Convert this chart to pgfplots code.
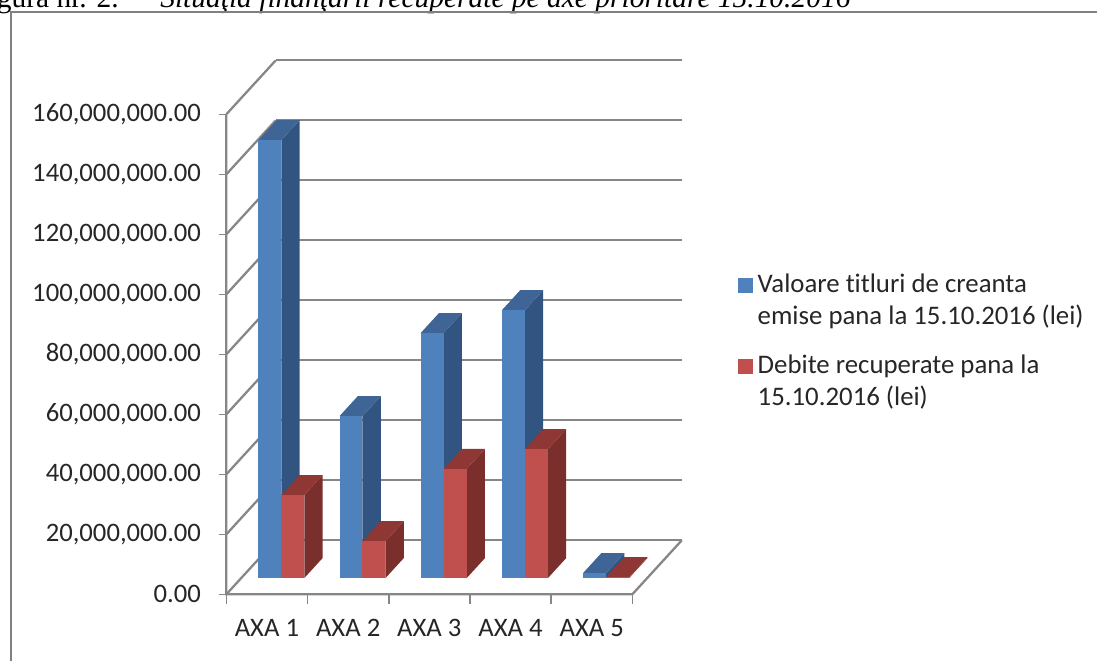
\documentclass[border=0pt]{standalone}
\usepackage{fontspec}
\setmainfont[Ligatures=NoCommon]{Carlito}
\newfontfamily\capfont{Liberation Serif}
\usepackage{pgfplots}
\pgfplotsset{compat=1.18}

\definecolor{gridgray}{HTML}{868686}
\definecolor{framegray}{HTML}{808080}
\definecolor{txt}{HTML}{262626}
\definecolor{bluefront}{HTML}{4F81BD}
\definecolor{bluetop}{HTML}{3E6595}
\definecolor{blueside}{HTML}{325480}
\definecolor{redfront}{HTML}{C0504D}
\definecolor{redtop}{HTML}{8E3735}
\definecolor{redside}{HTML}{7B2F2D}

% one 3D bar: x left, x right, value (millions), colour name prefix
\newcommand{\threedbar}[4]{
  \addplot3[fill=#4side,draw=none,forget plot] coordinates {(#2,0.3,0) (#2,0.67,0) (#2,0.67,#3) (#2,0.3,#3)} -- cycle;
  \addplot3[fill=#4top,draw=none,forget plot] coordinates {(#1,0.3,#3) (#2,0.3,#3) (#2,0.67,#3) (#1,0.67,#3)} -- cycle;
  \addplot3[fill=#4front,draw=none,forget plot] coordinates {(#1,0.3,0) (#2,0.3,0) (#2,0.3,#3) (#1,0.3,#3)} -- cycle;
}

\begin{document}
\begin{tikzpicture}[x=0.75pt,y=0.75pt]
\useasboundingbox (0,0) rectangle (1097,661);
\clip (0,0) rectangle (1097,661);

% caption of the scanned page, cut by the top edge
\node[anchor=base east,font=\capfont\fontsize{22.1}{24}\selectfont,inner sep=0pt] at (119,653) {Figura nr. 2.};
\node[anchor=base west,font=\capfont\itshape\fontsize{22.1}{24}\selectfont,inner sep=0pt] at (160,653) {Situaţia finanţării recuperate pe axe prioritare 15.10.2016};

% outer frame
\draw[framegray,line width=1.5pt] (11,0) -- (11,649) -- (1097,649);

\begin{axis}[
  at={(203.5,123.5)},
  anchor=origin,
  x={(60.9pt,0pt)},
  y={(37.1pt,40.5pt)},
  z={(0pt,2.25pt)},
  xmin=0, xmax=5,
  ymin=0, ymax=1,
  zmin=0, zmax=160,
  clip=false,
  axis line style={draw=none},
  zmajorgrids=true,
  grid style={gridgray,line width=1.7pt},
  major tick style={draw=none},
  xtick={0.5,1.5,2.5,3.5,4.5},
  xticklabels={AXA 1,AXA 2,AXA 3,AXA 4,AXA 5},
  ytick=\empty,
  ztick={0,20,40,60,80,100,120,140,160},
  zticklabels={{0.00},{20,000,000.00},{40,000,000.00},{60,000,000.00},{80,000,000.00},{100,000,000.00},{120,000,000.00},{140,000,000.00},{160,000,000.00}},
  xtick pos=left,
  ztick pos=left,
  tick label style={font=\fontsize{20}{24}\selectfont,text=txt},
  z tick label style={anchor=east,xshift=-15.5pt,yshift=0pt},
  x tick label style={anchor=base,xshift=0pt,yshift=-31.5pt},
  legend cell align=left,
  legend style={at={(1.0,0.5)},anchor=west,draw=none,fill=none,xshift=38.75pt,yshift=-10pt,
    /tikz/row sep=17.5pt,
    nodes={align=left,font=\fontsize{20.1}{24}\selectfont,text=txt}},
  legend image code/.code={\fill[#1,draw=none] (0pt,5.3pt) rectangle (11.25pt,16.5pt);\path[draw=none,fill=none] (13pt,5pt) -- (13pt,6pt);},
]
% floor edges and the value axis
\addplot3[gridgray,line width=1.7pt,forget plot] coordinates {(0,0,160) (0,0,0) (5,0,0) (5,1,0)};
% tick marks
\pgfplotsinvokeforeach{0,20,40,60,80,100,120,140,160}{
  \addplot3[gridgray,line width=1.2pt,forget plot] coordinates {(-0.086,0,#1) (0,0,#1)};
}
\pgfplotsinvokeforeach{0,1,2,3,4,5}{
  \addplot3[gridgray,line width=1.2pt,forget plot] coordinates {(#1,0,0) (#1,0,-3.3)};
}

% blue series: values in millions of lei
\threedbar{0.211}{0.494}{146.0}{blue}
\threedbar{1.211}{1.494}{54.0}{blue}
\threedbar{2.211}{2.494}{81.7}{blue}
\threedbar{3.211}{3.494}{89.3}{blue}
\threedbar{4.211}{4.494}{1.7}{blue}
% red series
\threedbar{0.494}{0.777}{27.7}{red}
\threedbar{1.494}{1.777}{12.3}{red}
\threedbar{2.494}{2.777}{36.4}{red}
\threedbar{3.494}{3.777}{43.0}{red}
\threedbar{4.494}{4.777}{0.3}{red}

\addlegendimage{fill=bluefront}
\addlegendentry{Valoare titluri de creanta\\emise pana la 15.10.2016 (lei)}
\addlegendimage{fill=redfront}
\addlegendentry{Debite recuperate pana la\\15.10.2016 (lei)}
\end{axis}
\end{tikzpicture}
\end{document}
